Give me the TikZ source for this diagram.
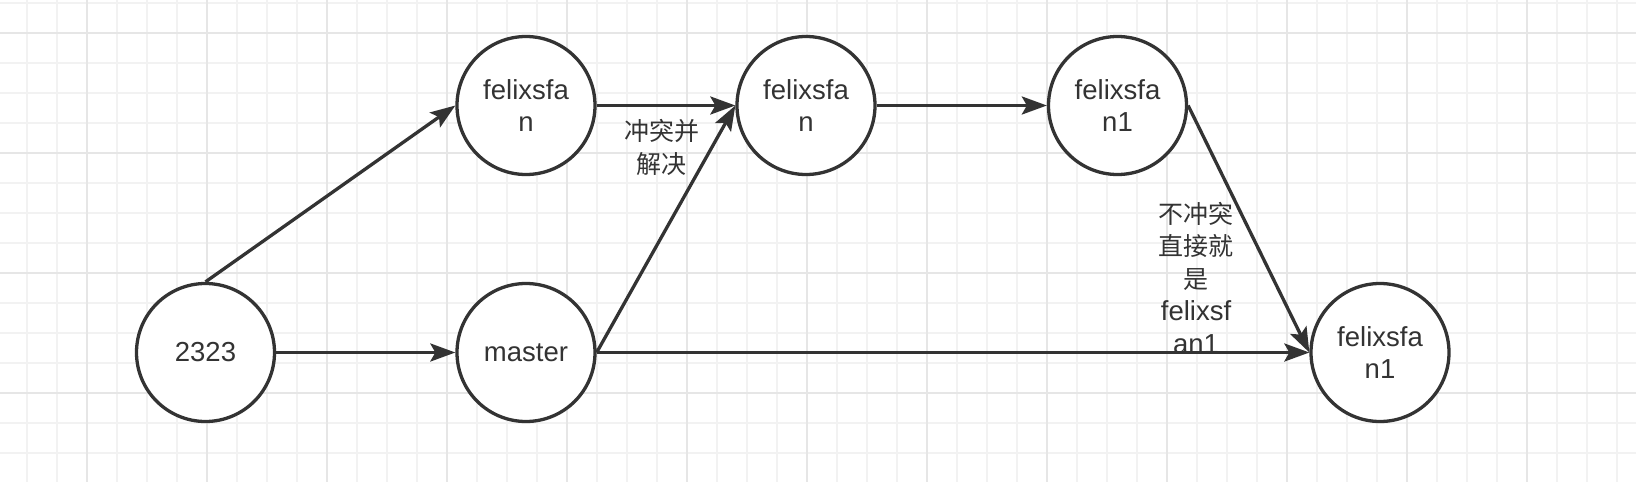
\documentclass[tikz,border=0pt]{standalone}
\usepackage{fontspec}
\setmainfont{Liberation Sans}
\newfontfamily\cjk{Noto Sans CJK SC}
\usetikzlibrary{arrows.meta}
\definecolor{ink}{HTML}{333333}
\definecolor{gridminor}{HTML}{F2F2F2}
\definecolor{gridmajor}{HTML}{E6E6E6}
\begin{document}
\begin{tikzpicture}[x=1pt,y=-1pt,
  commit/.style={circle,draw=ink,line width=3.3pt,fill=white,minimum size=138pt,inner sep=0pt,
    align=center,text=ink,font=\fontsize{27.5}{32}\selectfont},
  conn/.style={draw=ink,line width=3.3pt,-{Stealth[length=25pt,width=18pt,inset=5pt]}},
  lbl/.style={text=ink,align=center,font=\fontsize{25}{32.5}\selectfont,inner sep=0pt}]
\useasboundingbox (0,0) rectangle (1636,482);
\fill[white] (0,0) rectangle (1636,482);
% grid
\foreach \x in {27,57,...,1636} \draw[gridminor,line width=1.6pt] (\x,0) -- (\x,482);
\foreach \y in {3,33,...,482} \draw[gridminor,line width=1.6pt] (0,\y) -- (1636,\y);
\foreach \x in {87,207,...,1636} \draw[gridmajor,line width=1.6pt] (\x,0) -- (\x,482);
\foreach \y in {33,153,...,482} \draw[gridmajor,line width=1.6pt] (0,\y) -- (1636,\y);
% nodes
\node[commit] (a) at (205.5,352.5) {2323};
\node[commit] (m) at (526,352.5) {master};
\node[commit] (t1) at (526,105.5) {felixsfa\\n};
\node[commit] (t2) at (806,105.5) {felixsfa\\n};
\node[commit] (t3) at (1117.5,105.5) {felixsfa\\n1};
\node[commit] (b) at (1380,352.5) {felixsfa\\n1};
% connectors
\draw[conn] (a.north) -- (t1.west);
\draw[conn] (a.east) -- (m.west);
\draw[conn] (t1.east) -- (t2.west);
\draw[conn] (m.east) -- (t2.west);
\draw[conn] (t2.east) -- (t3.west);
\draw[conn] (t3.east) -- (b.west);
\draw[conn] (m.east) -- (b.west);
% labels
\node[lbl] (l1) at (661.5,147.5) {\cjk 冲突并\\\cjk 解决};
\node[lbl] (l2) at (1196,278) {\cjk 不冲突\\\cjk 直接就\\\cjk 是\\{\fontsize{27.5}{32.5}\selectfont felixsf}\\{\fontsize{27.5}{32.5}\selectfont an1}};
\end{tikzpicture}
\end{document}
